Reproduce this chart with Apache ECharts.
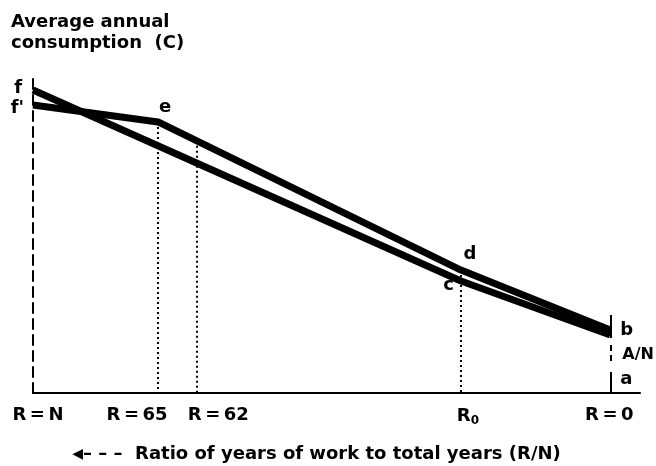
<!DOCTYPE html>
<html>
<head>
<meta charset="utf-8">
<script src="https://cdn.jsdelivr.net/npm/echarts@6/dist/echarts.min.js"></script>
<style>
  html, body { margin: 0; padding: 0; background: #fff; }
</style>
</head>
<body>
<div id="chart" style="width: 656px; height: 466px;"></div>
<script type="text/javascript">
// positions along the horizontal axis (abstract units, 0 = R=N, right end = 100)
var xN = 0, x65 = 20.6, x62 = 26.9, xR0 = 70.5, xB = 95.1;

// consumption paths (abstract units)
var pathFCB = [[xN, 94.7], [xR0, 35.0], [xB, 18.1]];               // f - c - b
var pathFEDB = [[xN, 90.0], [x65, 84.7], [xR0, 38.4], [xB, 19.7]]; // f' - e - d - b

var tickNames = ['R\u2009=\u2009N', 'R\u2009=\u200965', 'R\u2009=\u200962', '{r|R}{s|0}', 'R\u2009=\u20090'];
var tickPos = [xN, x65, x62, xR0, xB];
var tickShift = [5, -21, 22, 7, -1];

// A/N gap on the right-hand vertical
var rightSolidTop = [24.4, 17.2];
var rightDash = [15.0, 8.8];
var rightSolidBottom = [6.6, 0];

function yAt(path, x) {
    for (var i = 0; i < path.length - 1; i++) {
        var a = path[i], b = path[i + 1];
        if (x >= a[0] && x <= b[0]) {
            return a[1] + (b[1] - a[1]) * (x - a[0]) / (b[0] - a[0]);
        }
    }
    return path[path.length - 1][1];
}

var font = 'DejaVu Sans';
var lbl = {
    fontFamily: font, fontWeight: 'bold', fontSize: 18, color: '#000', opacity: 1,
    textBorderWidth: 0, textShadowBlur: 0,
    rich: {
        r: { fontFamily: font, fontWeight: 'bold', fontSize: 18, color: '#000' },
        s: { fontFamily: font, fontWeight: 'bold', fontSize: 12, color: '#000', padding: [9, 0, 0, 0] },
        n: { fontFamily: font, fontWeight: 'bold', fontSize: 16, color: '#000' }
    }
};

// point letters
var pointLabels = [
    { name: 'f', value: pathFCB[0], position: 'left', offset: [-6, -2] },
    { name: "f'", value: pathFEDB[0], position: 'left', offset: [-4, 3] },
    { name: 'e', value: pathFEDB[1], position: 'top', offset: [7, -1] },
    { name: 'd', value: pathFEDB[2], position: 'top', offset: [9, -2] },
    { name: 'c', value: pathFCB[1], position: 'left', offset: [-2, 4] },
    { name: 'b', value: pathFCB[2], position: 'right', offset: [5, -5] },
    { name: '{n|A/N}', value: [xB, (rightDash[0] + rightDash[1]) / 2], position: 'right', offset: [7, 0] },
    { name: 'a', value: [xB, (rightSolidBottom[0] + rightSolidBottom[1]) / 2 + 1], position: 'right', offset: [5, 0] }
];

var myChart = echarts.init(document.getElementById('chart'));

var dotted = { color: '#000', width: 2, type: [2, 3] };
var option = {
    animation: false,
    title: {
        text: 'Average annual\nconsumption  (C)',
        left: 6,
        top: 7,
        textStyle: { fontFamily: font, fontWeight: 'bold', fontSize: 18, lineHeight: 21, color: '#000' }
    },
    grid: { left: 33, right: 16, top: 73, bottom: 73, outerBoundsMode: 'none', containLabel: false },
    xAxis: {
        type: 'value', min: 0, max: 100,
        axisLine: { show: true, lineStyle: { color: '#000', width: 2 } },
        axisTick: { show: false }, axisLabel: { show: false }, splitLine: { show: false },
        name: '{a|\u25C0}\u2013 \u2013 \u2013  Ratio of years of work to total years (R/N)',
        nameLocation: 'middle', nameGap: 52,
        nameTextStyle: {
            fontFamily: font, fontWeight: 'bold', fontSize: 18, color: '#000', padding: [0, 40, 0, 0],
            rich: { a: { fontFamily: font, fontSize: 14, color: '#000' } }
        }
    },
    yAxis: {
        type: 'value', min: 0, max: 100,
        axisLine: { show: true, lineStyle: { color: '#000', width: 2, type: [10, 6] } },
        axisTick: { show: false }, axisLabel: { show: false }, splitLine: { show: false }
    },
    series: [
        {
            type: 'line', data: pathFCB, symbol: 'none', z: 5,
            lineStyle: { color: '#000', width: 7 }
        },
        {
            type: 'line', data: pathFEDB, symbol: 'none', z: 5,
            lineStyle: { color: '#000', width: 7 },
            markLine: {
                silent: true, symbol: 'none', label: { show: false },
                lineStyle: dotted,
                data: [
                    [{ coord: [x65, yAt(pathFEDB, x65)] }, { coord: [x65, 0] }],
                    [{ coord: [x62, yAt(pathFEDB, x62)] }, { coord: [x62, 0] }],
                    [{ coord: [xR0, yAt(pathFEDB, xR0)] }, { coord: [xR0, 0] }],
                    [{ coord: [xB, rightSolidTop[0]], lineStyle: { type: 'solid', width: 2 } }, { coord: [xB, rightSolidTop[1]] }],
                    [{ coord: [xB, rightDash[0]], lineStyle: { type: [6, 4], width: 2 } }, { coord: [xB, rightDash[1]] }],
                    [{ coord: [xB, rightSolidBottom[0]], lineStyle: { type: 'solid', width: 2 } }, { coord: [xB, rightSolidBottom[1]] }]
                ]
            }
        },
        {
            type: 'scatter', symbolSize: 0, clip: false, z: 10,
            itemStyle: { color: '#000', opacity: 1 },
            data: pointLabels.map(function (p) {
                return {
                    name: p.name, value: p.value,
                    label: Object.assign({ show: true, formatter: p.name, position: p.position, offset: p.offset }, lbl)
                };
            })
        },
        {
            type: 'scatter', symbolSize: 0, clip: false, z: 10,
            itemStyle: { color: '#000', opacity: 1 },
            data: tickNames.map(function (n, i) {
                return {
                    name: n, value: [tickPos[i], 0],
                    label: Object.assign({ show: true, formatter: n, position: 'bottom', distance: 13, offset: [tickShift[i], 0] }, lbl)
                };
            })
        }
    ]
};
myChart.setOption(option);
</script>
</body>
</html>
